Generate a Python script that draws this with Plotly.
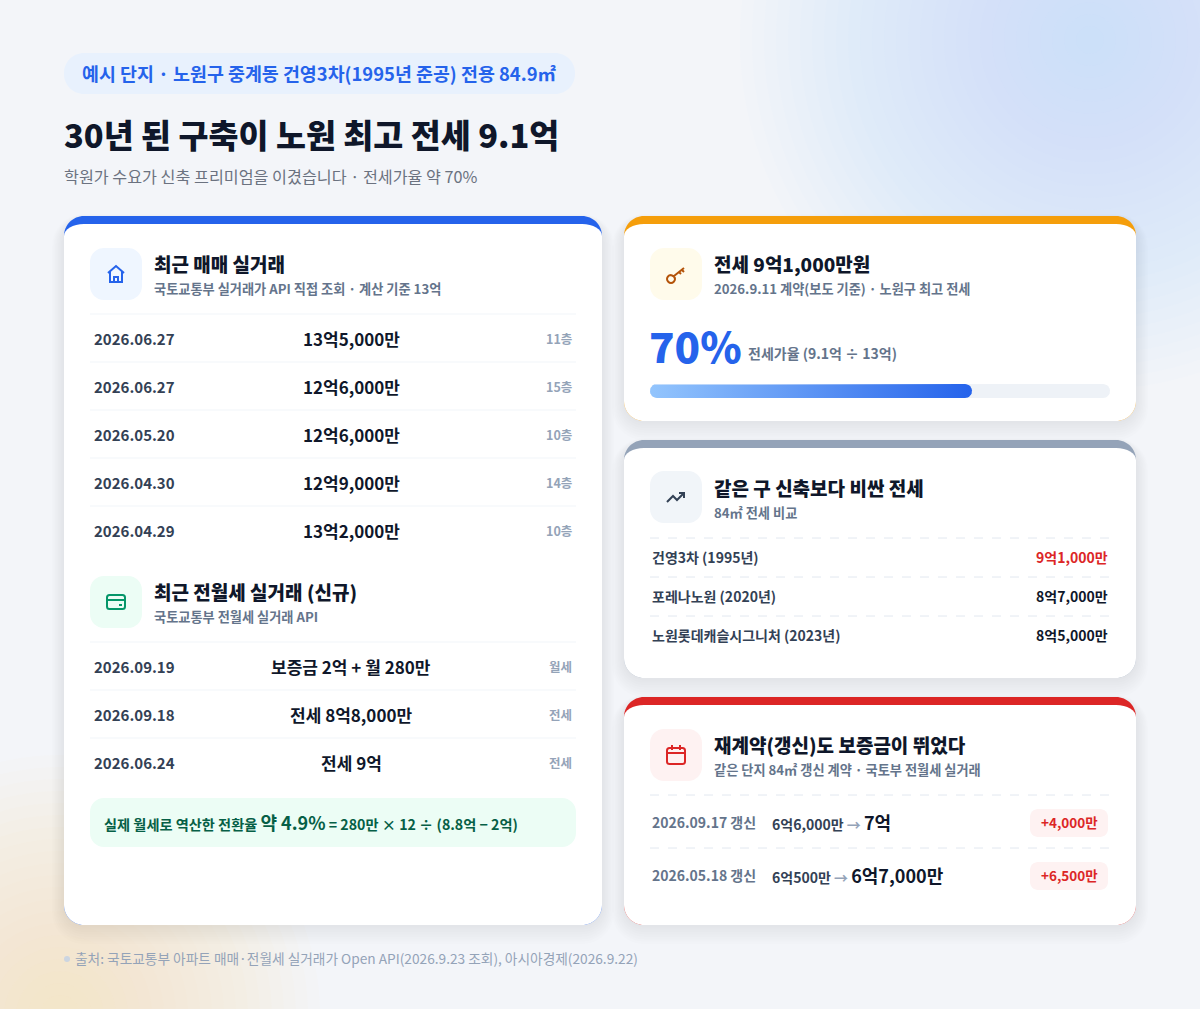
import numpy as np
import plotly.graph_objects as go

# ---- data ----
sale_dates = ["2026.06.27", "2026.06.27", "2026.05.20", "2026.04.30", "2026.04.29"]
sale_prices = ["13억5,000만", "12억6,000만", "12억6,000만", "12억9,000만", "13억2,000만"]
sale_floors = ["11층", "15층", "10층", "14층", "10층"]

rent_dates = ["2026.09.19", "2026.09.18", "2026.06.24"]
rent_terms = ["보증금 2억 + 월 280만", "전세 8억8,000만", "전세 9억"]
rent_types = ["월세", "전세", "전세"]

jeonse_ratio = 70  # 9.1억 / 13억

compare_names = ["건영3차 (1995년)", "포레나노원 (2020년)", "노원롯데캐슬시그니처 (2023년)"]
compare_prices = ["9억1,000만", "8억7,000만", "8억5,000만"]

renew_dates = ["2026.09.17 갱신", "2026.05.18 갱신"]
renew_before = ["6억6,000만", "6억500만"]
renew_after = ["7억", "6억7,000만"]
renew_change = ["+4,000만", "+6,500만"]

W, H = 1200, 1009
FONT = "Noto Sans CJK KR"
K = 0.5523

shapes = []
annos = []


def rpath(x0, y0, x1, y1, rxt, ryt=None, rb=None):
    if ryt is None:
        ryt = rxt
    if rb is None:
        rb = rxt
    return (f"M{x0+rxt},{y0} L{x1-rxt},{y0} "
            f"C{x1-rxt+K*rxt},{y0} {x1},{y0+ryt-K*ryt} {x1},{y0+ryt} "
            f"L{x1},{y1-rb} C{x1},{y1-rb+K*rb} {x1-rb+K*rb},{y1} {x1-rb},{y1} "
            f"L{x0+rb},{y1} C{x0+rb-K*rb},{y1} {x0},{y1-rb+K*rb} {x0},{y1-rb} "
            f"L{x0},{y0+ryt} C{x0},{y0+ryt-K*ryt} {x0+rxt-K*rxt},{y0} {x0+rxt},{y0} Z")


def box(x0, y0, x1, y1, r, fill):
    shapes.append(dict(type="path", xref="x", yref="y", path=rpath(x0, y0, x1, y1, r),
                       fillcolor=fill, line=dict(width=0), layer="below"))


def text(x, y, s, size, color, weight=400, anchor="left"):
    annos.append(dict(x=x, y=y - 1, xref="x", yref="y", text=s, showarrow=False, xanchor=anchor,
                      yanchor="middle", borderpad=0, borderwidth=0,
                      font=dict(family=FONT, size=size, color=color, weight=weight)))


def hline(x0, x1, y, color, dash="solid"):
    shapes.append(dict(type="line", xref="x", yref="y", x0=x0, x1=x1, y0=y, y1=y,
                       line=dict(color=color, width=1, dash=dash), layer="below"))


def card(x0, y0, x1, y1, color):
    # soft shadow, built from stacked translucent rounded rects
    for d in range(24, 0, -3):
        shapes.append(dict(type="path", xref="x", yref="y",
                           path=rpath(x0 - d / 2, y0 - d / 4 + 4, x1 + d / 2, y1 + d * 0.8, 20 + d / 2),
                           fillcolor="rgba(30,41,59,0.007)", line=dict(width=0), layer="below"))
    box(x0, y0, x1, y1, 20, color)
    shapes.append(dict(type="path", xref="x", yref="y", path=rpath(x0, y0 + 8, x1, y1, 20, 12, 20),
                       fillcolor="white", line=dict(width=0), layer="below"))


def icon(cx, cy, path, color, bg):
    box(cx - 26, cy - 26, cx + 26, cy + 26, 14, bg)
    shapes.append(dict(type="path", xref="x", yref="y", path=path,
                       line=dict(color=color, width=2), fillcolor="rgba(0,0,0,0)"))


# ---- background glows ----
for r in range(350, 10, -12):
    shapes.append(dict(type="circle", xref="x", yref="y", x0=1090 - r, x1=1090 + r, y0=40 - r, y1=40 + r,
                       fillcolor="rgba(205,227,253,0.032)", line=dict(width=0), layer="below"))
for r in range(260, 10, -12):
    shapes.append(dict(type="circle", xref="x", yref="y", x0=60 - r, x1=60 + r, y0=1015 - r, y1=1015 + r,
                       fillcolor="rgba(253,240,185,0.038)", line=dict(width=0), layer="below"))

# ---- header ----
box(64, 53, 575, 94, 20, "#e8f1fd")
text(82, 74, "<b>예시 단지 · 노원구 중계동 건영3차(1995년 준공) 전용 84.9㎡</b>", 18.4, "#2563eb")
text(64, 134, "30년 된 구축이 노원 최고 전세 9.1억", 32.6, "#0f172a", 800)
text(64, 177, "학원가 수요가 신축 프리미엄을 이겼습니다 · 전세가율 약 70%", 16.2, "#6b7280")

# ---- left card ----
card(64, 216, 602, 925, "#2563eb")
cx, cy = 116, 274
house = (f"M{cx-8},{cy-1} L{cx},{cy-8} L{cx+8},{cy-1} M{cx-6},{cy-3} L{cx-6},{cy+8} L{cx+6},{cy+8} "
         f"L{cx+6},{cy-3} M{cx-2},{cy+8} L{cx-2},{cy+3} L{cx+2},{cy+3} L{cx+2},{cy+8}")
icon(cx, cy, house, "#2563eb", "#eff6ff")
text(154, 264, "최근 매매 실거래", 19, "#0f172a", 800)
text(154, 289, "국토교통부 실거래가 API 직접 조회 · 계산 기준 13억", 13.2, "#64748b", 600)

row_h = 48
for i, (d, p, f) in enumerate(zip(sale_dates, sale_prices, sale_floors)):
    y = 339 + i * row_h
    hline(90, 576, y - 25, "#f1f5f9")
    text(94, y, d, 15, "#334155", 600)
    text(351, y, p, 17, "#0f172a", 700, "center")
    text(572, y, f, 12.5, "#94a3b8", 600, "right")

cx, cy = 116, 602
wallet = (rpath(cx - 9, cy - 7, cx + 9, cy + 7, 2.5) + f" M{cx-9},{cy-2} L{cx+9},{cy-2} "
          f"M{cx+3},{cy+3} L{cx+6},{cy+3}")
icon(cx, cy, wallet, "#059669", "#ecfdf5")
text(154, 592, "최근 전월세 실거래 (신규)", 19, "#0f172a", 800)
text(154, 617, "국토교통부 전월세 실거래 API", 13.2, "#64748b", 600)

for i, (d, t, k) in enumerate(zip(rent_dates, rent_terms, rent_types)):
    y = 667 + i * row_h
    hline(90, 576, y - 25, "#f1f5f9")
    text(94, y, d, 15, "#334155", 600)
    text(351, y, t, 17, "#0f172a", 700, "center")
    text(572, y, k, 12.5, "#94a3b8", 600, "right")

box(90, 798, 576, 847, 14, "#ecfdf5")
conv_rate = "약 4.9%"
text(104, 823, f"<b>실제 월세로 역산한 전환율 <span style='font-size:18px'>{conv_rate}</span> "
               f"= 280만 × 12 ÷ (8.8억 − 2억)</b>", 14.2, "#065f46")

# ---- right card 1 : jeonse ----
card(624, 216, 1136, 421, "#f59e0b")
cx, cy = 676, 274
key = (f"M{cx-5},{cy+1} C{cx-8},{cy+1} {cx-9},{cy+4} {cx-9},{cy+5} C{cx-9},{cy+7} {cx-7},{cy+9} "
       f"{cx-5},{cy+9} C{cx-3},{cy+9} {cx-1},{cy+7} {cx-1},{cy+5} C{cx-1},{cy+4} {cx-2},{cy+2} {cx-5},{cy+1} "
       f"M{cx-2},{cy+2} L{cx+8},{cy-6} M{cx+3},{cy-2} L{cx+5},{cy} M{cx+6},{cy-4} L{cx+8},{cy-2}")
icon(cx, cy, key, "#b45309", "#fffbeb")
text(714, 264, "전세 9억1,000만원", 19, "#0f172a", 800)
text(714, 289, "2026.9.11 계약(보도 기준) · 노원구 최고 전세", 13.2, "#64748b", 600)
text(649, 345, f"{jeonse_ratio}%", 42, "#2563eb", 800)
text(748, 354, "전세가율 (9.1억 ÷ 13억)", 14, "#64748b", 600)

# ---- right card 2 : compare ----
card(624, 440, 1136, 678, "#94a3b8")
cx, cy = 676, 497
trend = f"M{cx-9},{cy+5} L{cx-3},{cy-1} L{cx+1},{cy+3} L{cx+8},{cy-4} M{cx+3},{cy-4} L{cx+8},{cy-4} L{cx+8},{cy+1}"
icon(cx, cy, trend, "#334155", "#f1f5f9")
text(714, 488, "같은 구 신축보다 비싼 전세", 19, "#0f172a", 800)
text(714, 513, "84㎡ 전세 비교", 13.2, "#64748b", 600)
for i, (n, p) in enumerate(zip(compare_names, compare_prices)):
    y = 558 + i * 39
    hline(650, 1110, y - 20, "#e2e8f0", "dash")
    text(652, y, n, 14, "#334155", 600)
    text(1108, y, p, 14, "#dc2626" if i == 0 else "#0f172a", 700, "right")

# ---- right card 3 : renewal ----
card(624, 697, 1136, 925, "#dc2626")
cx, cy = 676, 755
cal = (rpath(cx - 9, cy - 7, cx + 9, cy + 9, 2.5) + f" M{cx-9},{cy-2} L{cx+9},{cy-2} "
       f"M{cx-4},{cy-10} L{cx-4},{cy-5} M{cx+4},{cy-10} L{cx+4},{cy-5}")
icon(cx, cy, cal, "#dc2626", "#fef2f2")
text(714, 745, "재계약(갱신)도 보증금이 뛰었다", 19, "#0f172a", 800)
text(714, 770, "같은 단지 84㎡ 갱신 계약 · 국토부 전월세 실거래", 13.2, "#64748b", 600)
for i, (d, b, a, c) in enumerate(zip(renew_dates, renew_before, renew_after, renew_change)):
    y = 823 + i * 53
    hline(650, 1110, y - 28, "#e2e8f0", "dash")
    text(652, y, d, 14, "#64748b", 600)
    text(772, y, f"{b} <span style='color:#94a3b8'>→</span> <b><span style='font-size:18px;color:#0f172a'>{a}</span></b>",
         14, "#334155", 600)
    box(1030, y - 14, 1108, y + 14, 8, "#fef2f2")
    text(1069, y, c, 13.5, "#dc2626", 700, "center")

# ---- footer ----
shapes.append(dict(type="circle", xref="x", yref="y", x0=64, x1=70, y0=956, y1=962,
                   fillcolor="#cbd5e1", line=dict(width=0)))
text(75, 959, "출처: 국토교통부 아파트 매매·전월세 실거래가 Open API(2026.9.23 조회), 아시아경제(2026.9.22)",
     13.7, "#94a3b8")

fig = go.Figure()
# invisible anchor trace so the pixel axes exist
fig.add_trace(go.Scatter(x=[0, W], y=[0, H], mode="markers", marker=dict(opacity=0),
                         hoverinfo="skip"))


# progress bar (capsule on its own axis)
def capsule(x1, rx, ry):
    t1 = np.linspace(-np.pi / 2, np.pi / 2, 16)
    t2 = np.linspace(np.pi / 2, 3 * np.pi / 2, 16)
    xs = list(x1 - rx + rx * np.cos(t1)) + list(rx + rx * np.cos(t2))
    ys = list(0.5 + ry * np.sin(t1)) + list(0.5 + ry * np.sin(t2))
    return xs + [xs[0]], ys + [ys[0]]


rx = 7 / 4.6
tx, ty = capsule(100, rx, 0.5)
fig.add_trace(go.Scatter(x=tx, y=ty, fill="toself", fillcolor="#eef2f7", mode="lines",
                         line=dict(width=0), xaxis="x2", yaxis="y2", hoverinfo="skip"))
bx, by = capsule(jeonse_ratio, rx, 0.5)
fig.add_trace(go.Scatter(x=bx, y=by, fill="toself", mode="lines", line=dict(width=0),
                         fillgradient=dict(type="horizontal", colorscale=[[0, "#93c5fd"], [1, "#2563eb"]]),
                         xaxis="x2", yaxis="y2", hoverinfo="skip"))

fig.update_layout(
    width=W, height=H, margin=dict(l=0, r=0, t=0, b=0),
    paper_bgcolor="#f3f5f9", plot_bgcolor="rgba(0,0,0,0)",
    showlegend=False,
    xaxis=dict(range=[0, W], visible=False, fixedrange=True),
    yaxis=dict(range=[H, 0], visible=False, fixedrange=True),
    xaxis2=dict(domain=[650 / W, 1110 / W], range=[0, 100], visible=False, fixedrange=True, anchor="y2"),
    yaxis2=dict(domain=[1 - 398 / H, 1 - 384 / H], range=[0, 1], visible=False, fixedrange=True, anchor="x2"),
    shapes=shapes, annotations=annos,
)
fig.write_html("out.html", config={"displayModeBar": False},
               post_script="document.body.style.margin='0';document.body.style.overflow='hidden';")
